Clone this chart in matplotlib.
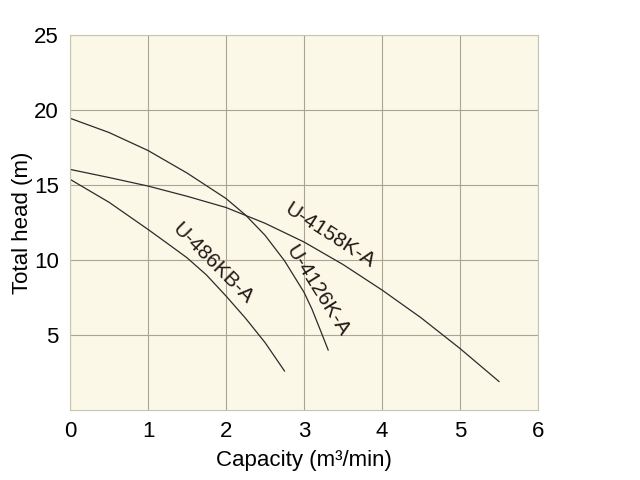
import numpy as np
import matplotlib
matplotlib.use("Agg")
import matplotlib.pyplot as plt

plt.rcParams['font.family'] = ['Liberation Sans', 'DejaVu Sans']

# pump curves (capacity m3/min, head m)
x_4158 = [0, 0.5, 1, 1.5, 2, 2.5, 3, 3.5, 4, 4.5, 5, 5.5]
h_4158 = [16.04, 15.5, 14.93, 14.25, 13.5, 12.45, 11.2, 9.7, 8.0, 6.15, 4.1, 1.9]

x_4126 = [0, 0.5, 1, 1.5, 2, 2.25, 2.5, 2.75, 3.0, 3.1, 3.2, 3.31]
h_4126 = [19.45, 18.5, 17.3, 15.8, 14.1, 13.0, 11.65, 9.95, 7.85, 6.75, 5.45, 4.0]

x_486 = [0, 0.5, 1, 1.25, 1.5, 1.75, 2, 2.25, 2.5, 2.75]
h_486 = [15.38, 13.85, 12.04, 11.1, 10.15, 9.0, 7.6, 6.12, 4.5, 2.6]

labels = ["U-4158K-A", "U-4126K-A", "U-486KB-A"]
label_pos = [(3.33, 11.6), (3.17, 7.95), (1.83, 9.8)]
label_rot = [-33, -58, -45]

fig = plt.figure(figsize=(6.4, 4.8), dpi=100)
ax = fig.add_axes([70 / 640, 1 - 410 / 480, 468 / 640, 375 / 480])
ax.set_facecolor('#fbf8e8')

for xs, hs in [(x_4158, h_4158), (x_4126, h_4126), (x_486, h_486)]:
    ax.plot(xs, hs, color='#2b2b2b', lw=0.9)

for lab, (lx, ly), rot in zip(labels, label_pos, label_rot):
    ax.text(lx, ly, lab, rotation=rot, rotation_mode='anchor',
            ha='center', va='center', fontsize=15, color='#231815')

ax.set_xlim(0, 6)
ax.set_ylim(0, 25)
ax.set_xticks(range(0, 7))
ax.set_yticks([5, 10, 15, 20, 25])
ax.grid(True, color='#a8a595', lw=0.8)
ax.set_axisbelow(True)
ax.tick_params(length=0, labelsize=16, pad=8)
for s in ax.spines.values():
    s.set_color('#c8c4b0')
    s.set_linewidth(0.8)

ax.set_xlabel("Capacity (m³/min)", fontsize=16, labelpad=6)
ax.set_ylabel("Total head (m)", fontsize=16, labelpad=1)

fig.savefig("out.png", dpi=100)
